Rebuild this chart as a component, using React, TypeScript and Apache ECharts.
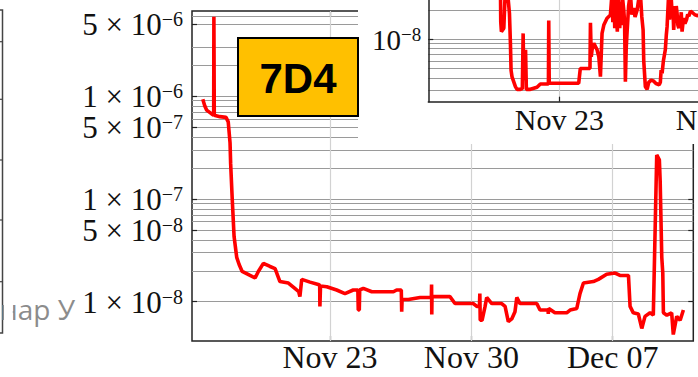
import React, { useEffect, useRef } from 'react';
import * as echarts from 'echarts';

// Main plot: [day (Nov = day of month, Dec = 30 + day), pressure]
const mainSeries: [number, number][] = [
  [16.70, 9.3e-7], [16.80, 8.0e-7], [16.89, 7.3e-7], [17.14, 6.7e-7], [17.24, 6.5e-7],
  [17.25, 5.9e-6], [17.27, 6.5e-7], [17.55, 6.3e-7], [17.85, 6.2e-7], [17.96, 5.6e-7],
  [18.05, 3.5e-7], [18.08, 2.2e-7], [18.16, 9.8e-8], [18.25, 4.3e-8], [18.38, 2.7e-8],
  [18.50, 2.3e-8], [18.65, 1.97e-8], [19.04, 1.8e-8], [19.29, 1.7e-8], [19.45, 1.97e-8],
  [19.70, 2.36e-8], [20.03, 2.2e-8], [20.28, 2.1e-8], [20.52, 1.57e-8], [20.94, 1.52e-8],
  [21.35, 1.3e-8], [21.45, 1.25e-8], [21.51, 1.12e-8], [21.60, 1.65e-8], [22.01, 1.55e-8],
  [22.42, 1.47e-8], [22.49, 1.45e-8], [22.50, 9.0e-9], [22.53, 1.42e-8], [22.84, 1.4e-8],
  [23.33, 1.3e-8], [23.74, 1.2e-8], [24.15, 1.3e-8], [24.38, 1.3e-8], [24.40, 8.3e-9],
  [24.45, 8.3e-9], [24.47, 1.3e-8], [24.65, 1.35e-8], [25.07, 1.25e-8], [26.14, 1.25e-8],
  [26.30, 1.3e-8], [26.53, 1.3e-8], [26.55, 8.0e-9], [26.57, 1.05e-8], [26.88, 1.05e-8],
  [27.46, 1.1e-8], [28.02, 1.1e-8], [28.03, 1.47e-8], [28.04, 7.5e-9], [28.05, 1.12e-8],
  [28.94, 1.12e-8], [29.19, 9.6e-9], [30.10, 9.6e-9], [30.27, 9.0e-9], [30.40, 9.0e-9],
  [30.42, 1.2e-8], [30.44, 6.6e-9], [30.53, 6.6e-9], [30.68, 9.0e-9], [30.76, 1.1e-8],
  [31.01, 9.6e-9], [31.50, 9.6e-9], [31.67, 9.0e-9], [31.83, 6.4e-9], [32.00, 6.8e-9],
  [32.16, 8.0e-9], [32.25, 1.1e-8], [32.41, 9.6e-9], [33.24, 9.6e-9], [33.40, 8.3e-9],
  [33.80, 8.3e-9], [33.81, 7.6e-9], [33.83, 8.6e-9], [34.14, 7.8e-9], [34.72, 7.8e-9],
  [34.89, 8.3e-9], [35.22, 8.6e-9], [35.38, 1.2e-8], [35.55, 1.52e-8], [36.04, 1.57e-8],
  [36.29, 1.65e-8], [36.70, 1.85e-8], [37.12, 1.9e-8], [37.36, 1.8e-8], [37.78, 1.8e-8],
  [37.86, 9.0e-9], [38.02, 7.8e-9], [38.27, 7.6e-9], [38.44, 5.5e-9], [38.60, 7.2e-9],
  [38.85, 7.8e-9], [39.01, 7.4e-9], [39.18, 2.67e-7], [39.31, 2.4e-7], [39.35, 1.5e-7],
  [39.43, 2.7e-8], [39.48, 1.9e-8], [39.51, 7.8e-9], [39.68, 7.4e-9], [39.92, 7.8e-9],
  [40.00, 4.8e-9], [40.17, 7.2e-9], [40.34, 6.6e-9], [40.50, 8.3e-9],
];

// Inset plot (zoom around Nov 23)
const insetSeries: [number, number][] = [
  [22.634, 3.5e-8], [22.636, 1.5e-8], [22.640, 1.2e-8], [22.655, 1.3e-8], [22.665, 3.5e-8],
  [22.675, 3.5e-8], [22.690, 1.85e-8], [22.696, 9.1e-9], [22.700, 4.8e-9], [22.706, 4.1e-9],
  [22.727, 3.25e-9], [22.737, 3.05e-9], [22.758, 3.05e-9], [22.770, 3.1e-9], [22.775, 1.15e-8],
  [22.779, 3.8e-9], [22.783, 3.8e-9], [22.790, 7.8e-9], [22.795, 3.05e-9], [22.820, 3.05e-9],
  [22.861, 3.2e-9], [22.882, 3.46e-9], [22.932, 3.46e-9], [22.934, 1.56e-8], [22.937, 3.52e-9],
  [22.944, 3.52e-9], [23.120, 3.52e-9], [23.130, 5.0e-9], [23.190, 5.0e-9], [23.193, 1.48e-8],
  [23.198, 6.6e-9], [23.203, 7.8e-9], [23.214, 9.1e-9], [23.234, 7.8e-9], [23.245, 6.6e-9],
  [23.255, 4.12e-9], [23.265, 1.15e-8], [23.276, 1.4e-8], [23.296, 1.65e-8], [23.317, 1.78e-8],
  [23.327, 3.0e-8], [23.332, 1.5e-8], [23.338, 2.8e-8], [23.344, 1.3e-8], [23.350, 2.6e-8],
  [23.355, 1.6e-8], [23.360, 1.2e-8], [23.365, 3.0e-8], [23.369, 2.2e-8], [23.375, 1.3e-8],
  [23.380, 2.4e-8], [23.385, 1.4e-8], [23.392, 2.7e-8], [23.400, 2.0e-8], [23.405, 1.5e-8],
  [23.410, 3.65e-9], [23.415, 8.0e-9], [23.420, 1.15e-8], [23.430, 2.2e-8], [23.441, 3.0e-8],
  [23.450, 1.8e-8], [23.462, 2.1e-8], [23.470, 1.7e-8], [23.483, 2.0e-8], [23.493, 2.6e-8],
  [23.503, 3.0e-8], [23.512, 1.7e-8], [23.520, 1.25e-8], [23.524, 6.0e-9], [23.534, 3.25e-9],
  [23.545, 3.05e-9], [23.555, 3.6e-9], [23.570, 3.8e-9], [23.586, 3.7e-9], [23.600, 3.5e-9],
  [23.620, 3.4e-9], [23.627, 3.6e-9], [23.632, 4.8e-9], [23.638, 4.46e-9], [23.646, 6.0e-9],
  [23.658, 7.8e-9], [23.664, 1.1e-8], [23.669, 1.35e-8], [23.679, 3.0e-8], [23.684, 1.6e-8],
  [23.690, 1.9e-8], [23.695, 2.6e-8], [23.700, 1.85e-8], [23.705, 2.2e-8], [23.710, 1.25e-8],
  [23.715, 1.8e-8], [23.720, 1.5e-8], [23.726, 2.2e-8], [23.731, 1.85e-8], [23.736, 1.4e-8],
  [23.742, 1.3e-8], [23.747, 1.75e-8], [23.752, 1.5e-8], [23.757, 1.9e-8], [23.762, 1.2e-8],
  [23.768, 1.5e-8], [23.773, 1.65e-8], [23.780, 1.45e-8], [23.790, 1.6e-8], [23.797, 1.8e-8],
  [23.804, 1.73e-8], [23.814, 1.95e-8], [23.824, 1.9e-8], [23.840, 1.8e-8], [23.855, 1.75e-8],
  [23.880, 1.8e-8],
];

const mainXTicks = [23, 30, 37];
const mainYTicks = [5e-6, 1e-6, 5e-7, 1e-7, 5e-8, 1e-8];
const mainGridValues = [
  6e-6, 5e-6, 3e-6, 2e-6, 1e-6, 9e-7, 8e-7, 7e-7, 6e-7, 5e-7, 4e-7, 3e-7, 2e-7,
  1e-7, 9e-8, 8e-8, 7e-8, 6e-8, 5e-8, 4e-8, 3e-8, 2e-8, 1e-8,
];
const insetXTicks = [23, 24];
const insetYTicks = [1e-8];
const insetGridValues = [2e-8, 1e-8, 9e-9, 8e-9, 7e-9, 6e-9, 5e-9, 4e-9, 3e-9];

const MAIN_X_MIN = 16.166;
const MAIN_X_MAX = 40.991;
const MAIN_Y_MIN = 4.15e-9;
const MAIN_Y_MAX = 6.706e-6;
const INSET_X_MIN = 22.186;
const INSET_X_MAX = 24.246;
const INSET_Y_MIN = 2.275e-9;
const INSET_Y_MAX = 2.54e-8;

const serif = '"Liberation Serif", "Times New Roman", serif';

function dayLabel(v: number) {
  if (v <= 30) return `Nov ${Math.round(v)}`;
  const d = Math.round(v - 30);
  return `Dec ${d < 10 ? '0' + d : d}`;
}

function sciLabel(v: number) {
  const e = Math.floor(Math.log10(v) + 1e-9);
  const m = Math.round(v / Math.pow(10, e));
  return `{b|${m} × 10}{s|−${Math.abs(e)}}`;
}

function powLabel(v: number) {
  const e = Math.floor(Math.log10(v) + 1e-9);
  return `{b|10}{s|−${Math.abs(e)}}`;
}

const mainRich = {
  b: { fontSize: 31, lineHeight: 30, padding: [0, 0, 12, 0], verticalAlign: 'top', fontFamily: serif, color: '#111' },
  s: { fontSize: 20, lineHeight: 14, verticalAlign: 'top', fontFamily: serif, color: '#111' },
};
const insetRich = {
  b: { fontSize: 29, lineHeight: 28, padding: [0, 0, 10, 0], verticalAlign: 'top', fontFamily: serif, color: '#111' },
  s: { fontSize: 19, lineHeight: 14, verticalAlign: 'top', fontFamily: serif, color: '#111' },
};

const tickStyle = { color: '#222', width: 1.2 };
const hGrid = { color: '#9a9a9a', width: 1.2, type: 'solid' };

function buildOption() {
  const vLine = (v: number) => ({ xAxis: v, lineStyle: { color: '#d2d2d2', width: 1.2, type: 'solid' } });
  const leftTicks = [41.7, 99.3, 160, 220, 281.7];

  return {
    animation: false,
    backgroundColor: '#fff',
    grid: [
      { left: 192, top: 11, width: 501.3, height: 330, show: true, borderColor: '#222', borderWidth: 1.5, backgroundColor: 'transparent' },
      { left: 428.3, top: 0, width: 331.7, height: 101.7 },
    ],
    xAxis: [
      {
        type: 'value', gridIndex: 0, min: MAIN_X_MIN, max: MAIN_X_MAX, position: 'bottom',
        axisLine: { show: false }, splitLine: { show: false },
        axisTick: { customValues: mainXTicks, inside: true, length: 5, lineStyle: tickStyle },
        axisLabel: { customValues: mainXTicks, formatter: dayLabel, fontFamily: serif, fontSize: 32, color: '#111', margin: 0 },
      },
      {
        type: 'value', gridIndex: 0, min: MAIN_X_MIN, max: MAIN_X_MAX, position: 'top',
        axisLine: { show: false }, splitLine: { show: false },
        axisTick: { customValues: mainXTicks, inside: true, length: 5, lineStyle: tickStyle },
        axisLabel: { show: false },
      },
      {
        type: 'value', gridIndex: 1, min: INSET_X_MIN, max: INSET_X_MAX, position: 'bottom', z: 12,
        axisLine: { show: true, lineStyle: { color: '#222', width: 1.5 } }, splitLine: { show: false },
        axisTick: { customValues: insetXTicks, inside: true, length: 5, lineStyle: tickStyle },
        axisLabel: { customValues: insetXTicks, formatter: dayLabel, fontFamily: serif, fontSize: 30, color: '#111', margin: 3 },
      },
    ],
    yAxis: [
      {
        type: 'log', gridIndex: 0, min: MAIN_Y_MIN, max: MAIN_Y_MAX, position: 'left',
        axisLine: { show: false }, splitLine: { show: false }, minorTick: { show: false }, minorSplitLine: { show: false },
        axisTick: { customValues: mainYTicks, inside: true, length: 5, lineStyle: tickStyle },
        axisLabel: { customValues: mainYTicks, formatter: sciLabel, rich: mainRich, margin: 9 },
      },
      {
        type: 'log', gridIndex: 0, min: MAIN_Y_MIN, max: MAIN_Y_MAX, position: 'right',
        axisLine: { show: false }, splitLine: { show: false },
        axisTick: { customValues: mainYTicks, inside: true, length: 5, lineStyle: tickStyle },
        axisLabel: { show: false },
      },
      {
        type: 'log', gridIndex: 1, min: INSET_Y_MIN, max: INSET_Y_MAX, position: 'left', z: 12,
        axisLine: { show: true, lineStyle: { color: '#222', width: 1.5 } }, splitLine: { show: false },
        axisTick: { customValues: insetYTicks, inside: true, length: 5, lineStyle: tickStyle },
        axisLabel: { customValues: insetYTicks, formatter: powLabel, rich: insetRich, margin: 7 },
      },
      {
        // horizontal grid lines of the main plot
        type: 'log', gridIndex: 0, min: MAIN_Y_MIN, max: MAIN_Y_MAX, position: 'left',
        axisLine: { show: false }, axisLabel: { show: false },
        axisTick: { show: false, customValues: mainGridValues },
        splitLine: { show: true, lineStyle: hGrid },
      },
      {
        // horizontal grid lines of the inset
        type: 'log', gridIndex: 1, min: INSET_Y_MIN, max: INSET_Y_MAX, position: 'left', z: 11,
        axisLine: { show: false }, axisLabel: { show: false },
        axisTick: { show: false, customValues: insetGridValues },
        splitLine: { show: true, lineStyle: hGrid },
      },
    ],
    series: [
      {
        type: 'line', xAxisIndex: 0, yAxisIndex: 0, data: mainSeries, z: 3,
        symbol: 'none', showSymbol: false, clip: true,
        lineStyle: { color: '#ff0000', width: 3.6 },
        markLine: {
          silent: true, symbol: 'none', z: 1, animation: false,
          label: { show: false },
          data: mainXTicks.map(vLine),
        },
      },
      {
        type: 'line', xAxisIndex: 2, yAxisIndex: 2, data: insetSeries, z: 13,
        symbol: 'none', showSymbol: false, clip: true,
        lineStyle: { color: '#ff0000', width: 3.6 },
        markLine: {
          silent: true, symbol: 'none', z: 11, animation: false,
          label: { show: false },
          data: insetXTicks.map(vLine),
        },
      },
    ],
    graphic: [
      { type: 'rect', z: 6, shape: { x: 358, y: 0, width: 430, height: 144 }, style: { fill: '#fff' } },
      { type: 'rect', z: 20, shape: { x: 238, y: 38, width: 120, height: 78 }, style: { fill: '#FFC000', stroke: '#000', lineWidth: 2 } },
      {
        type: 'text', z: 21, x: 298, y: 78,
        style: { text: '7D4', font: 'bold 42px "Liberation Sans", Arial, sans-serif', fill: '#000', align: 'center', verticalAlign: 'middle', textAlign: 'center', textVerticalAlign: 'middle' },
      },
      { type: 'polyline', z: 2, shape: { points: [[0, 10], [2.5, 10], [2.5, 333], [0, 333]] }, style: { stroke: '#444', lineWidth: 1.5, fill: 'none' } },
      ...leftTicks.map((y) => ({ type: 'line', z: 2, shape: { x1: 0, y1: y, x2: 2.5, y2: y }, style: { stroke: '#444', lineWidth: 1.2 } })),
      {
        type: 'text', z: 2, x: 75, y: 309,
        style: { text: 'нар У', font: '28px "Open Sans", "Noto Sans", sans-serif', fill: '#8c8c8c', align: 'right', verticalAlign: 'middle', textAlign: 'right', textVerticalAlign: 'middle' },
      },
      { type: 'rect', z: 3, shape: { x: 4, y: 290, width: 8.8, height: 40 }, style: { fill: '#fff' } },
    ],
  };
}

export default function App() {
  const ref = useRef<HTMLDivElement>(null);
  useEffect(() => {
    if (!ref.current) return;
    const chart = echarts.init(ref.current, null, { renderer: 'svg' });
    chart.setOption(buildOption() as any);
    return () => chart.dispose();
  }, []);
  return (
    <div style={{ position: 'absolute', left: 0, top: 0, width: 698, height: 377, overflow: 'hidden', background: '#fff' }}>
      <div ref={ref} style={{ width: 780, height: 377 }} />
    </div>
  );
}
